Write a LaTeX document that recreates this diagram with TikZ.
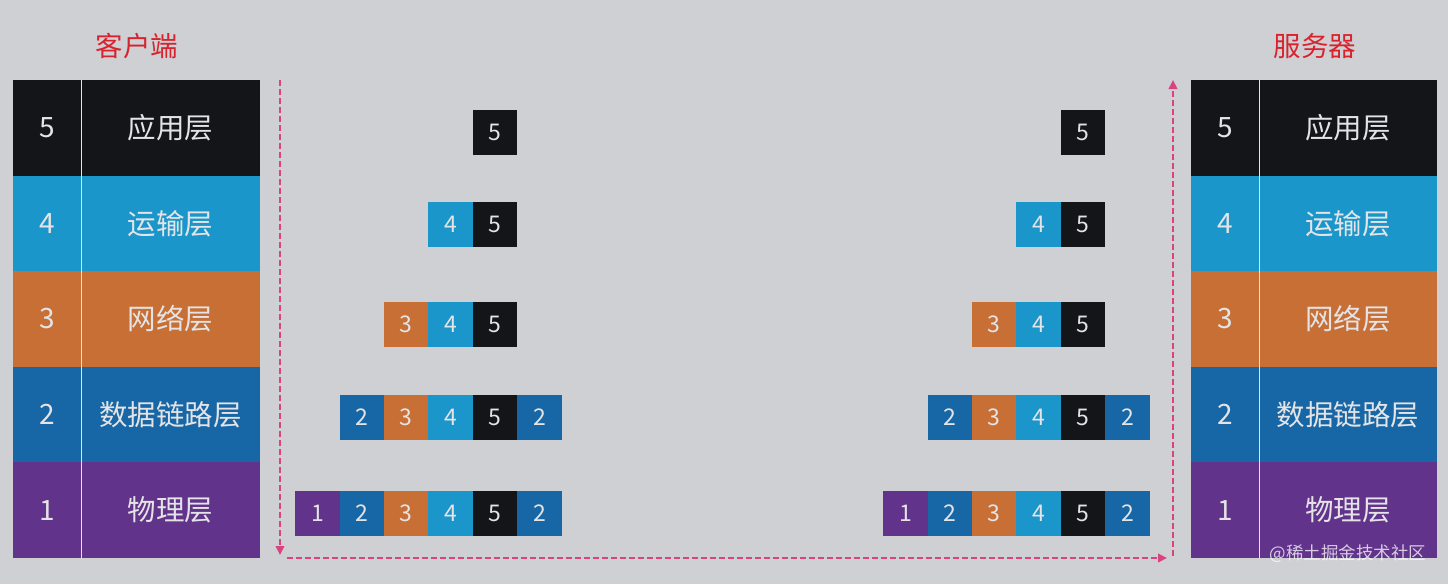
\documentclass[tikz,border=0pt]{standalone}
\usepackage{fontspec}
\setmainfont{Noto Sans CJK SC}
\usetikzlibrary{arrows.meta}
\definecolor{bg}{HTML}{CFD0D4}
\definecolor{c5}{HTML}{141519}
\definecolor{c4}{HTML}{1B96CB}
\definecolor{c3}{HTML}{C86F35}
\definecolor{c2}{HTML}{1766A5}
\definecolor{c1}{HTML}{62338B}
\definecolor{txt}{HTML}{E4E4E6}
\definecolor{titlered}{HTML}{D8232E}
\definecolor{flowc}{HTML}{D9437F}
\begin{document}
\begin{tikzpicture}[x=1pt,y=-1pt,
  numcell/.style={rectangle, inner sep=0pt, minimum width=68pt, minimum height=95.6pt, text=txt, font=\fontsize{28}{30}\selectfont},
  namecell/.style={rectangle, inner sep=0pt, minimum height=95.6pt, text=txt, font=\fontsize{28.5}{30}\selectfont},
  pk/.style={rectangle, inner sep=0pt, minimum width=44.6pt, minimum height=45pt, text=txt, font=\fontsize{23}{25}\selectfont},
  divider/.style={draw=txt, line width=1.3pt},
  flow/.style={draw=flowc, line width=2pt, dash pattern=on 6pt off 3pt, -{Triangle[length=9pt,width=8.5pt]}},
  titletext/.style={text=titlered, font=\fontsize{27.5}{30}\selectfont},
  wmark/.style={text=white, opacity=0.75, font=\fontsize{17.5}{19}\selectfont}]
\fill[bg] (0,0) rectangle (1448,584);
\useasboundingbox (0,0) rectangle (1448,584);
% titles
\node[titletext] (tc) at (137,46) {客户端};
\node[titletext] (ts) at (1315,46) {服务器};
% stacks
\foreach \n/\t/\yc in {5/应用层/127.8, 4/运输层/223.4, 3/网络层/319.0, 2/数据链路层/414.6, 1/物理层/510.2} {
  \node[numcell, fill=c\n] (ln\n) at (47,\yc) {\n};
  \node[namecell, fill=c\n, minimum width=179.5pt] (lt\n) at (170.5,\yc) {\t};
  \node[numcell, fill=c\n] (rn\n) at (1225,\yc) {\n};
  \node[namecell, fill=c\n, minimum width=178.5pt] (rt\n) at (1348,\yc) {\t};
}
\draw[divider] (ln5.north east) -- (ln1.south east);
\draw[divider] (rn5.north east) -- (rn1.south east);
% packets
\foreach \side/\dx in {l/0, r/588} {
  \foreach \row/\yc/\items in {5/132.5/{5/5}, 4/224.5/{4/4,5/5}, 3/324.5/{3/3,4/4,5/5}, 2/417.5/{2/2,3/3,4/4,5/5,6/2}, 1/513/{1/1,2/2,3/3,4/4,5/5,6/2}} {
    \foreach \col/\lab in \items {
      \node[pk, fill=c\lab] (p\side\row\col) at ({295.3+44.4*(\col-0.5)+\dx},\yc) {\lab};
    }
  }
}
% flow arrows
\coordinate (a1) at (280,80);
\coordinate (a2) at (280,555);
\coordinate (a3) at (287,558);
\coordinate (a4) at (1167,558);
\coordinate (a5) at (1173,556);
\coordinate (a6) at (1173,80);
\draw[flow] (a1) -- (a2);
\draw[flow] (a3) -- (a4);
\draw[flow] (a5) -- (a6);
% watermark text
\node[wmark] (wm) at (1348,554) {@稀土掘金技术社区};
\end{tikzpicture}
\end{document}
